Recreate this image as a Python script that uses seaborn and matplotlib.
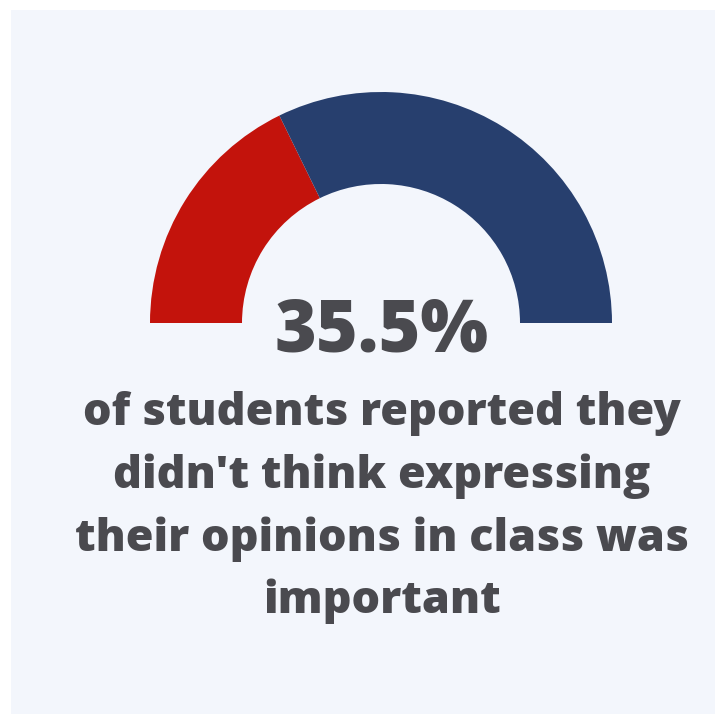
import matplotlib
matplotlib.use("Agg")
import matplotlib.pyplot as plt
from matplotlib.patches import Rectangle
import seaborn as sns

# Survey share shown on the gauge
labels = ["Didn't think it was important", "Other students"]
shares = [35.5, 64.5]
gauge_colors = ["#c3130c", "#273f6e"]
headline = "35.5%"
caption_lines = [
    "of students reported they",
    "didn't think expressing",
    "their opinions in class was",
    "important",
]

sns.set_theme(style="white")
plt.rcParams["font.family"] = ["Open Sans", "DejaVu Sans"]

W, H = 715, 714
fig = plt.figure(figsize=(W / 100, H / 100), dpi=100, facecolor="white")
ax = fig.add_axes([0, 0, 1, 1])

# Light panel behind the graphic
ax.add_patch(Rectangle((11, -5), W, H - 5, facecolor="#f3f6fc",
                       edgecolor="none", zorder=0))

# Half donut: the lower half is an invisible filler wedge
cx, cy, r_out, r_in = 381, H - 323, 231, 139
values = shares + [sum(shares)]
colors = gauge_colors + ["none"]
ax.pie(values, colors=colors, startangle=180, counterclock=False,
       center=(cx, cy), radius=r_out,
       wedgeprops=dict(width=r_out - r_in, edgecolor="none", linewidth=0))

ax.set_xlim(0, W)
ax.set_ylim(0, H)
ax.set_aspect("equal")
ax.axis("off")

text_color = "#4a4a4f"
ax.text(382, H - 352, headline, ha="center", va="baseline",
        fontsize=51.5, fontweight=800, color=text_color)

baselines = [425, 488, 551, 613]
for line, b in zip(caption_lines, baselines):
    ax.text(382, H - b, line, ha="center", va="baseline",
            fontsize=32.4, fontweight=800, color=text_color)

fig.savefig("out.png", dpi=100, facecolor="white")
